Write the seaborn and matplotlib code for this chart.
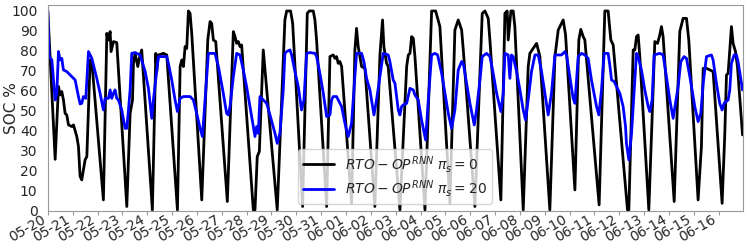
import matplotlib
matplotlib.use("Agg")
import matplotlib.pyplot as plt
import matplotlib.dates as mdates
import numpy as np
import pandas as pd
import seaborn as sns

start = pd.Timestamp("2021-05-20 00:00")

# black: pi_s = 0  (hours since start, SOC %)
black_h = [0, 7.1, 10.3, 11.9, 13.5, 15.1, 16.7, 18.3, 20, 23.2, 24.8, 28, 29.6, 31.2, 32.8,
           34.4, 36, 37.7, 40.9, 42.5, 53.7, 57, 58.6, 60.2, 61.1, 63.4, 66.6, 76.3, 79.5,
           81.8, 82.7, 84.3, 86.9, 89.1, 90.7, 101, 104.3, 105.2, 106.8, 111.7, 114.9, 125.2,
           127.8, 129.4, 131, 132.6, 134.2, 135.8, 137.4, 139, 148.7, 154.5, 156.7, 158.3,
           159.9, 162.2, 173.4, 179.2, 180.8, 182.4, 184, 185.6, 187.2, 198.5, 200.1, 202.3,
           204.3, 208.1, 221.6, 229, 230.7, 234.5, 236.5, 246.1, 250.6, 252.5, 256.4, 258,
           259.6, 269.3, 272.5, 275.7, 277.3, 278.9, 280.5, 282.1, 283.8, 293.4, 296.6, 298.2,
           299.8, 303.1, 306.3, 315.9, 320.8, 323.3, 324.6, 327.2, 328.8, 340.1, 346.6, 348.2,
           349.8, 351.4, 353, 354.6, 364.3, 370.7, 374.6, 376.5, 378.7, 388.4, 393.2, 396.4,
           399.7, 401.3, 412.5, 419.6, 422.2, 425.4, 427, 437.6, 441.5, 443.7, 444.7, 447.3,
           449.5, 451.1, 459.2, 464, 465.6, 468.8, 472.1, 475.3, 484.9, 489.8, 493, 496.2,
           497.8, 500.1, 509.1, 512.9, 514.8, 517.1, 518.7, 532.5, 538, 541.2, 543.8, 546.1,
           559.9, 561.2, 565.4, 567, 568.6, 570.2, 571.8, 580.5, 586.3, 588.9, 591.1, 592.7,
           594.3, 605, 610.4, 613.6, 616.9, 619.1, 628.1, 631.3, 633, 636.2, 639.4, 642.6,
           651.3, 653.9, 655.5, 657.1, 660.3, 661.9, 664.2, 666.1, 671]
black_v = [100, 25.8, 62.2, 58, 59.7, 55.5, 48.8, 48, 43, 42.2, 43, 37.2, 32.2, 17.2, 15.5,
           20.5, 25.5, 27.2, 75.5, 74.7, 5.5, 88.8, 85.5, 89.7, 79.7, 84.7, 84.2, 2.2, 48.8,
           55.5, 73.8, 78.8, 72.2, 78, 80.5, 0.5, 78.8, 69.7, 78, 78.8, 78, 0.5,
           72.2, 75.5, 72.2, 82.2, 81.3, 100, 98.8, 88.8, 5.5, 85.5, 94.7, 93.8,
           85.5, 84.7, 4.7, 89.7, 87.2, 83.8, 84.7, 82.2, 83, 0.5, 0.5, 27.2,
           29.7, 80.5, 0.5, 95.5, 100, 100, 93.8, 2.2, 98.8, 100, 100, 95.5,
           85.5, 2.2, 77.2, 78, 76.3, 77.2, 73.8, 74.7, 72.2, 3.8, 80.5, 91.3,
           82.2, 72.2, 71.3, 2.2, 78, 95.5, 82.2, 73.8, 72.2, 0.5, 72.2, 78,
           78.8, 87.2, 86.3, 77.2, 0.5, 100, 100, 96.3, 92.2, 3.8, 90.5, 95.5,
           90.5, 80.5, 2.2, 98.8, 100, 96.3, 85.5, 5.5, 98.8, 100, 85.5, 100,
           100, 92.2, 0.5, 72.2, 78.8, 81.3, 83.8, 77.2, 0.5, 77.2, 90.5, 93.8,
           95.5, 88, 10.5, 85.5, 90.8, 87.2, 85.5, 3, 100, 100, 85.5, 83,
           0.5, 0.5, 80.5, 80.5, 87.2, 88, 77.2, 0.5, 84.7, 83.8, 88, 92.2,
           87.2, 4.7, 89.7, 96.3, 96.3, 85.5, 5.5, 32.2, 71.3, 71.3, 70.5, 69.7,
           3.8, 38.8, 68, 68.8, 92.2, 83.8, 79.7, 72.2, 38]

# blue: pi_s = 20
blue_h = [0, 1.3, 3.9, 7.1, 8.7, 10.3, 11.9, 13.5, 15.1, 18.3, 21.6, 24.8, 26.4, 28, 29.6,
          31.2, 32.8, 34.4, 36.7, 39.3, 42.5, 44.1, 47.3, 50.5, 53.7, 55.3, 58.6, 60.2, 61.8,
          63.4, 65, 66.6, 68.2, 71.4, 74.7, 76.3, 77.9, 79.5, 81.1, 84.3, 89.1, 90.7, 94,
          97.2, 100.4, 102, 105.2, 106.8, 111.7, 114.9, 116.5, 119.7, 122.9, 125.2, 127.8,
          131, 134.2, 137.4, 140.6, 143.8, 147.1, 149.3, 151.9, 155.1, 158.3, 161.5, 164.8,
          166.3, 169.5, 172.7, 174.3, 176, 179.2, 182.4, 185.6, 188.8, 192, 195.3, 198.5,
          200.1, 201.7, 203.3, 204.9, 208.1, 211.4, 214.6, 219.4, 221.6, 224.2, 227.4, 229,
          230.7, 233.9, 235.5, 238.7, 241.9, 245.1, 247.4, 250, 253.2, 258, 259.6, 262.8,
          266.1, 269.3, 272.5, 274.1, 275.7, 278.9, 280.5, 283.8, 287, 290.2, 293.4, 296.6,
          298.2, 303.1, 305.3, 307.9, 311.1, 315, 317.5, 320.8, 324, 328.8, 330.4, 333.6,
          335.3, 338.5, 340.1, 341.7, 343.3, 346.6, 349.8, 353, 354.6, 357.8, 361, 364.9,
          367.5, 370.7, 373.9, 376.5, 380.4, 383.6, 386.8, 390, 393.2, 396.4, 399.7, 401.3,
          404.5, 407.7, 411.9, 414.1, 417.4, 419.6, 423.8, 427, 430.2, 433.5, 437.6, 439.9,
          441.5, 444.7, 446.3, 447.9, 449.5, 452.8, 456, 459.2, 461.4, 464, 467.2, 470.5,
          473.7, 476.9, 480.1, 483.3, 486.5, 489.8, 496.2, 499.4, 501, 504.2, 507.4, 509.1,
          512.3, 515.5, 518.7, 521.9, 525.1, 530, 532.2, 534.8, 537.4, 541.2, 542.8, 544.5,
          547, 549.3, 552.5, 555.7, 558, 558.9, 561.2, 563.8, 567, 568.6, 570.2, 573.4,
          576.6, 579.9, 581.5, 583.7, 585.6, 591.1, 594.3, 597.5, 600.8, 604, 608.8, 611.4,
          614.6, 616.9, 620.1, 624.9, 628.1, 630.7, 633, 636.2, 641, 642.6, 645.8, 649,
          651.3, 653.2, 657.1, 658.7, 660.3, 662.9, 665.1, 666.7, 671]
blue_v = [100, 77.2, 75.5, 55.5, 58.8, 79.7, 75.5, 76.3, 70.5, 69.7, 68, 66.3, 65.5, 61.3, 57.2,
          53.5, 53.8, 57.2, 56.3, 79.7, 76.3, 73, 66.3, 58.8, 50.5, 56.3, 56.3, 60.5, 56.3,
          58.8, 60.5, 56.3, 55.5, 50.5, 41.3, 41.3, 50.5, 60.5, 78.8, 79.2, 78, 75.5, 69.7,
          61.3, 46.3, 55.5, 69.7, 77.2, 77.2, 77.2, 73.8, 65.5, 55.5, 49.7, 56.3,
          57.2, 57.2, 57.2, 55.5, 48.8, 41.3, 37.2, 55.5, 78.8, 78.8, 78.8, 72.2,
          68, 58.8, 48.8, 48, 52.2, 67.2, 78.8, 78, 70.5, 62.2, 52.2, 42.2,
          37.2, 42.2, 38.8, 57.2, 55.5, 53.8, 48, 38.8, 33.8, 38.8, 60.5, 78.8,
          79.7, 80.5, 78, 69.7, 62.2, 50.5, 55.5, 78.8, 79.2, 78.8, 77.2, 68.8,
          58.8, 47.2, 48, 55.5, 57.2, 57.2, 55.5, 52.2, 43.8, 37.2, 43.8, 67.2,
          78.8, 78.8, 74.7, 66.3, 60.5, 48, 55.5, 67.2, 78.8, 78, 74.7, 65.5,
          63.8, 50.5, 48, 52.2, 53, 53.8, 61.3, 60.5, 58, 55.5, 45.5, 35.5,
          55.5, 78, 78.8, 78, 68.8, 58.8, 48.8, 41.3, 50.5, 70.5, 74.7, 73.8,
          63.8, 53.8, 43, 50.5, 65.5, 77.2, 78.8, 77.2, 68.8, 58.8, 49.7, 58.8,
          78.8, 78, 66.3, 78, 77.2, 69.7, 60.5, 50.5, 45.5, 55.5, 69.7, 78,
          78, 69.7, 58.8, 48, 58.8, 78, 78, 79.7, 78, 67.2, 56.3, 53.8,
          77.2, 78.8, 78, 76.3, 65.5, 52.2, 48, 60.5, 78.8, 78.8, 73, 65.5,
          64.7, 62.2, 58.8, 52.2, 42.2, 33.8, 25.5, 38.8, 65.5, 78.8, 77.2, 70.5,
          60.5, 52.2, 49.7, 55.5, 78, 78.8, 78, 67.2, 55.5, 46.3, 62.2, 74.7,
          77.2, 76.3, 67.2, 52.2, 44.7, 48.8, 63.8, 77.2, 78, 75.5, 63.8, 53.8,
          50.5, 53.8, 55.5, 60.5, 73.8, 78, 78, 74.7, 60.5]

labels = [r"$RTO-OP^{RNN}\ \pi_s=0$", r"$RTO-OP^{RNN}\ \pi_s=20$"]

sns.set_style("white")
plt.rcParams["font.family"] = ["DejaVu Sans"]

fig = plt.figure(figsize=(7.47, 2.49), dpi=100)
ax = fig.add_axes([0.064, 0.153, 0.93, 0.827])

t_black = start + pd.to_timedelta(black_h, unit="h")
t_blue = start + pd.to_timedelta(blue_h, unit="h")
sns.lineplot(x=t_black, y=black_v, color="black", lw=2, label=labels[0], ax=ax)
sns.lineplot(x=t_blue, y=blue_v, color="blue", lw=2, label=labels[1], ax=ax)

ax.set_xlim(start, t_black[-1])
ax.set_ylim(0, 103)
ax.set_yticks(np.arange(0, 101, 10))
ax.xaxis.set_major_locator(mdates.DayLocator())
ax.xaxis.set_major_formatter(mdates.DateFormatter("%m-%d"))
ax.set_xlabel("")
ax.xaxis.label.set_visible(False)
ax.set_ylabel("SOC %", fontsize=11)
ax.yaxis.set_label_coords(-0.041, 0.5)
ax.tick_params(axis="x", bottom=True, length=3, color="0.6", labelsize=10, pad=-2)
ax.tick_params(axis="y", left=False, labelsize=10, pad=4)
plt.setp(ax.get_xticklabels(), rotation=30, ha="right")
for s in ax.spines.values():
    s.set_color("0.6")
ax.legend(loc="lower center", fontsize=10, handlelength=2.2,
          labelspacing=0.25, borderpad=0.35)

plt.savefig("out.png", dpi=100)
